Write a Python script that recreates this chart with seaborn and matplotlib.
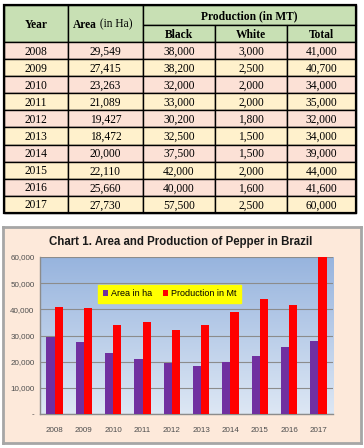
import numpy as np
import pandas as pd
import matplotlib
matplotlib.use("Agg")
import matplotlib.pyplot as plt
import seaborn as sns
from matplotlib.patches import Rectangle, Patch

# data from the table
years = ["2008", "2009", "2010", "2011", "2012", "2013", "2014", "2015", "2016", "2017"]
area = [29549, 27415, 23263, 21089, 19427, 18472, 20000, 22110, 25660, 27730]
black = [38000, 38200, 32000, 33000, 30200, 32500, 37500, 42000, 40000, 57500]
white = [3000, 2500, 2000, 2000, 1800, 1500, 1500, 2000, 1600, 2500]
total = [41000, 40700, 34000, 35000, 32000, 34000, 39000, 44000, 41600, 60000]

series_names = ["Area in ha", "Production in Mt"]
y_ticks = [0, 10000, 20000, 30000, 40000, 50000, 60000]
y_labels = ["-", "10,000", "20,000", "30,000", "40,000", "50,000", "60,000"]

W, H = 364, 448
fig = plt.figure(figsize=(W / 100, H / 100), dpi=100)
fig.patch.set_facecolor("white")

# ---------------- table ----------------
tab = fig.add_axes([0, 0, 1, 1])
tab.set_xlim(0, W)
tab.set_ylim(H, 0)
tab.axis("off")

serif = "Liberation Serif"
fs = 8.3
cols = [4, 68, 143, 215, 287, 356]
h_top, h_mid, h_bot = 5, 25, 42
row_h = 17.1
green = "#C8E0B4"
pink = "#FCE1D6"
yellow = "#FFF1CC"
lw = 1.0

def cell(x0, x1, y0, y1, color):
    tab.add_patch(Rectangle((x0, y0), x1 - x0, y1 - y0, facecolor=color,
                            edgecolor="black", linewidth=lw))

# header
cell(cols[0], cols[1], h_top, h_bot, green)
cell(cols[1], cols[2], h_top, h_bot, green)
cell(cols[2], cols[5], h_top, h_mid, green)
for c in range(2, 5):
    cell(cols[c], cols[c + 1], h_mid, h_bot, green)

tab.text((cols[0] + cols[1]) / 2, (h_top + h_bot) / 2 + 1, "Year", ha="center", va="center",
         family=serif, fontsize=fs, fontweight="bold")
t_area = tab.text(73, (h_top + h_bot) / 2 + 1, "Area", ha="left", va="center",
                  family=serif, fontsize=fs, fontweight="bold")
tab.annotate(" (in Ha)", xy=(1, 0.5), xycoords=t_area, ha="left", va="center",
             family=serif, fontsize=fs)
tab.text((cols[2] + cols[5]) / 2, (h_top + h_mid) / 2 + 1, "Production (in MT)", ha="center",
         va="center", family=serif, fontsize=fs, fontweight="bold")
for c, lab in zip(range(2, 5), ["Black", "White", "Total"]):
    tab.text((cols[c] + cols[c + 1]) / 2, (h_mid + h_bot) / 2 + 1, lab, ha="center", va="center",
             family=serif, fontsize=fs, fontweight="bold")

for i, yr in enumerate(years):
    y0 = h_bot + i * row_h
    y1 = y0 + row_h
    color = pink if i % 2 == 0 else yellow
    vals = [yr, f"{area[i]:,}", f"{black[i]:,}", f"{white[i]:,}", f"{total[i]:,}"]
    for c in range(5):
        cell(cols[c], cols[c + 1], y0, y1, color)
        tab.text((cols[c] + cols[c + 1]) / 2, (y0 + y1) / 2 + 1, vals[c], ha="center",
                 va="center", family=serif, fontsize=fs)

# outer border a bit heavier
tab.add_patch(Rectangle((cols[0], h_top), cols[5] - cols[0], h_bot + len(years) * row_h - h_top,
                        facecolor="none", edgecolor="black", linewidth=1.6))

# ---------------- chart ----------------
frame = fig.add_axes([3 / W, 1 - 443 / H, 358 / W, 216 / H])
frame.set_facecolor("#FDE9DA")
frame.set_xticks([])
frame.set_yticks([])
for s in frame.spines.values():
    s.set_color("#A6A6A6")
    s.set_linewidth(2)

sans = "Liberation Sans"
fig.text(0.497, 1 - 242 / H, "Chart 1. Area and Production of Pepper in Brazil",
         ha="center", va="center", family=sans, fontsize=8.3, fontweight="bold", color="#1a1a1a")

ax = fig.add_axes([40 / W, 1 - 414 / H, 293 / W, 157 / H])
df = pd.DataFrame({
    "Year": years + years,
    "value": area + total,
    "series": [series_names[0]] * len(years) + [series_names[1]] * len(years),
})
sns.barplot(data=df, x="Year", y="value", hue="series", hue_order=series_names,
            palette=["#7030A0", "#FF0000"], width=0.56, saturation=1,
            ax=ax, legend=False, zorder=3)

# gradient plot area
grad = np.linspace(0, 1, 256).reshape(-1, 1)
cmap = matplotlib.colors.LinearSegmentedColormap.from_list("bg", ["#DDE7F4", "#97B4DE"])
ax.imshow(grad, aspect="auto", cmap=cmap, origin="lower",
          extent=(-0.5, len(years) - 0.5, 0, 60000), zorder=0)
ax.set_xlim(-0.5, len(years) - 0.5)
ax.set_ylim(0, 60000)
ax.set_yticks(y_ticks)
ax.set_yticklabels(y_labels)
ax.yaxis.grid(True, color="#8C8C8C", linewidth=0.8, zorder=1)
ax.set_axisbelow(False)
for line in ax.get_ygridlines():
    line.set_zorder(1)
ax.set_xlabel("")
ax.set_ylabel("")
ax.tick_params(axis="both", length=0, labelsize=5.8, labelcolor="#4D4D4D", pad=9)
ax.tick_params(axis="y", pad=4)
for s in ["top", "right"]:
    ax.spines[s].set_visible(False)
for s in ["left", "bottom"]:
    ax.spines[s].set_color("#8C8C8C")
    ax.spines[s].set_linewidth(1)
for lab in ax.get_xticklabels() + ax.get_yticklabels():
    lab.set_family(sans)

handles = [Patch(facecolor="#7030A0"), Patch(facecolor="#FF0000")]
leg = ax.legend(handles, series_names, ncol=2, loc="center",
                bbox_to_anchor=(0.443, 0.765), frameon=True, fancybox=False,
                handlelength=0.6, handleheight=0.6, handletextpad=0.3, columnspacing=1.2,
                borderpad=0.5, prop={"family": sans, "size": 6.5})
leg.get_frame().set_facecolor("#FFFF00")
leg.get_frame().set_edgecolor("#FFFF00")
leg.get_frame().set_alpha(1)

fig.savefig("out.png", dpi=100)
